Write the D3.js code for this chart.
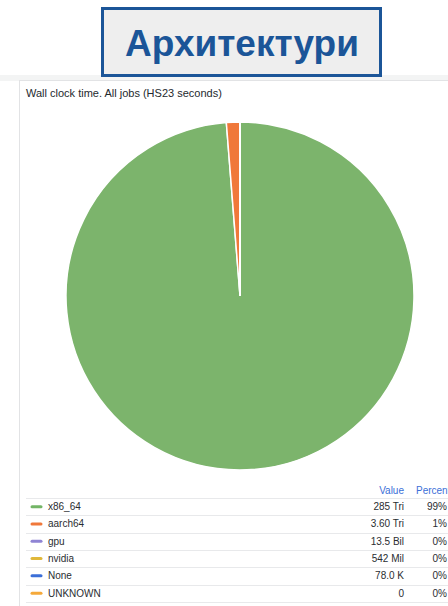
<!DOCTYPE html>
<html>
<head>
<meta charset="utf-8">
<script src="https://cdn.jsdelivr.net/npm/d3@7"></script>
<style>
  body { margin: 0; background: #fff; }
  svg { display: block; font-family: "Liberation Sans", Arial, sans-serif; }
</style>
</head>
<body>
<svg id="chart"></svg>
<script>
// data
var categories = ['x86_64', 'aarch64', 'gpu', 'nvidia', 'None', 'UNKNOWN'];
var values = [285e12, 3.60e12, 13.5e9, 542e6, 78.0e3, 0];
var valueLabels = ['285 Tri', '3.60 Tri', '13.5 Bil', '542 Mil', '78.0 K', '0'];
var percentLabels = ['99%', '1%', '0%', '0%', '0%', '0%'];
var colors = ['#73b566', '#f0783a', '#8f84d4', '#e0b83a', '#3b6fd8', '#f5a93a'];

var W = 448, H = 606;

var svg = d3.select('#chart')
  .attr('width', W)
  .attr('height', H);

// grey strip and panel
svg.append('rect').attr('x', 0).attr('y', 75).attr('width', W).attr('height', 6).attr('fill', '#f3f4f4');
svg.append('rect')
  .attr('x', 19.5).attr('y', 80.5)
  .attr('width', W).attr('height', H)
  .attr('fill', '#fff')
  .attr('stroke', '#e2e3e5');

// heading box
svg.append('rect')
  .attr('x', 102.5).attr('y', 8.5)
  .attr('width', 278).attr('height', 67)
  .attr('fill', '#eeeeee')
  .attr('stroke', '#1b5598')
  .attr('stroke-width', 3);
svg.append('text')
  .attr('x', 242).attr('y', 56)
  .attr('text-anchor', 'middle')
  .attr('font-size', 37)
  .attr('font-weight', 'bold')
  .attr('fill', '#1b5598')
  .text('Архитектури');

// panel title
svg.append('text')
  .attr('x', 26).attr('y', 97)
  .attr('font-size', 11)
  .attr('fill', '#24292e')
  .text('Wall clock time. All jobs (HS23 seconds)');

// pie
var cx = 240, cy = 296, r = 174;
var defs = svg.append('defs');
var grad = defs.append('radialGradient')
  .attr('id', 'g0').attr('gradientUnits', 'userSpaceOnUse')
  .attr('cx', cx).attr('cy', cy).attr('r', r);
grad.append('stop').attr('offset', '0%').attr('stop-color', '#89c17d');
grad.append('stop').attr('offset', '100%').attr('stop-color', '#7cb46c');

var pie = d3.pie().sort(null).value(function (d) { return d; });
var arc = d3.arc().innerRadius(0).outerRadius(r);

var pg = svg.append('g').attr('transform', 'translate(' + cx + ',' + cy + ')');
pg.selectAll('path')
  .data(pie(values))
  .enter()
  .append('path')
  .attr('d', arc)
  .attr('fill', function (d, i) { return i == 0 ? 'url(#g0)' : colors[i]; })
  .attr('stroke', '#fff')
  .attr('stroke-width', function (d) { return d.value > 0 ? 1.5 : 0; });

// legend table
var valueX = 404, pctX = 447, rowH = 17.3, tableTop = 498;
var lg = svg.append('g').attr('font-size', 10);

lg.append('text').attr('x', valueX).attr('y', 494).attr('text-anchor', 'end')
  .attr('fill', '#3b6fd8').text('Value');
lg.append('text').attr('x', 416).attr('y', 494)
  .attr('fill', '#3b6fd8').text('Percent');

var y = d3.scaleLinear().domain([0, 1]).range([tableTop, tableTop + rowH]);

lg.selectAll('.sep')
  .data(d3.range(categories.length + 1))
  .enter()
  .append('line')
  .attr('x1', 26).attr('x2', W)
  .attr('y1', function (i) { return Math.round(y(i)) + 0.5; })
  .attr('y2', function (i) { return Math.round(y(i)) + 0.5; })
  .attr('stroke', '#e8e9eb');

var rows = lg.selectAll('.row')
  .data(categories)
  .enter()
  .append('g')
  .attr('transform', function (d, i) { return 'translate(0,' + (y(i) + rowH / 2) + ')'; });

rows.append('line')
  .attr('x1', 32).attr('x2', 41)
  .attr('stroke', function (d, i) { return colors[i]; })
  .attr('stroke-width', 3)
  .attr('stroke-linecap', 'round');
rows.append('text')
  .attr('x', 48).attr('dy', '0.35em')
  .attr('fill', '#2a2d31')
  .text(function (d) { return d; });
rows.append('text')
  .attr('x', valueX).attr('dy', '0.35em').attr('text-anchor', 'end')
  .attr('fill', '#2a2d31')
  .text(function (d, i) { return valueLabels[i]; });
rows.append('text')
  .attr('x', pctX).attr('dy', '0.35em').attr('text-anchor', 'end')
  .attr('fill', '#2a2d31')
  .text(function (d, i) { return percentLabels[i]; });
</script>
</body>
</html>
